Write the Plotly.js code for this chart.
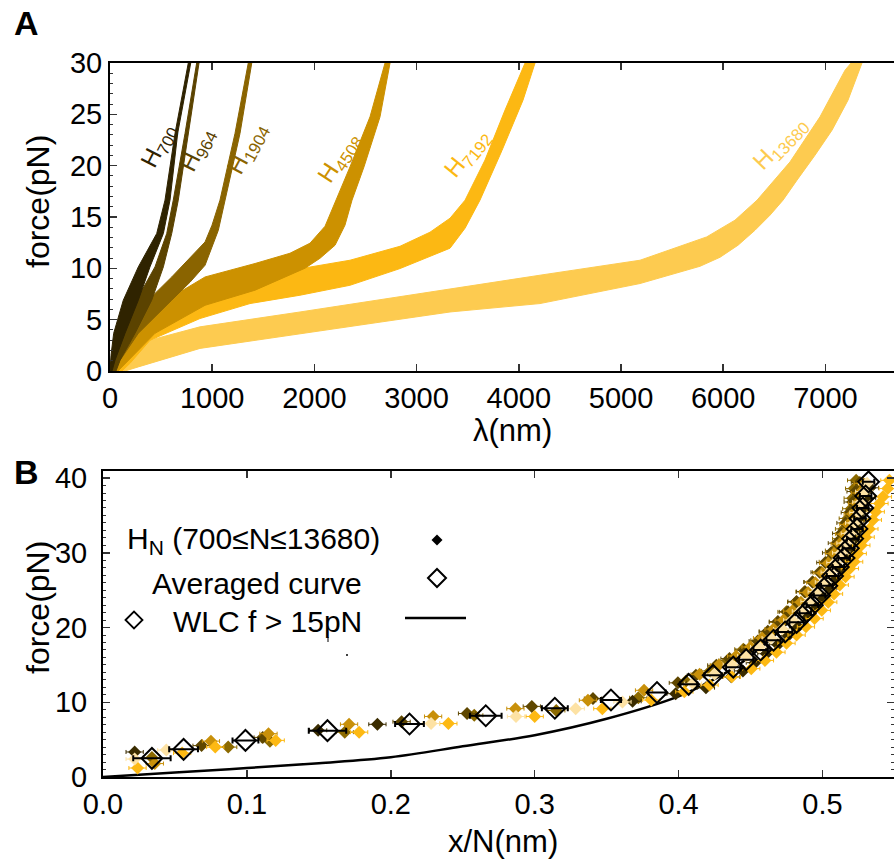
<!DOCTYPE html>
<html><head><meta charset="utf-8">
<script src="https://cdn.plot.ly/plotly-3.0.1.min.js"></script>
<style>html,body{margin:0;padding:0;background:#fff}#chart{width:894px;height:861px}</style>
</head><body><div id="chart"></div>
<script>
// ---------- Panel A : force-extension traces (band envelopes) ----------
const curveLabels = ['H<sub>700</sub>','H<sub>964</sub>','H<sub>1904</sub>','H<sub>4508</sub>','H<sub>7192</sub>','H<sub>13680</sub>'];

const h700UpLam = [0, 10, 36, 130, 277, 457, 538, 636, 766];
const h700UpF   = [0, 1.53, 3.67, 6.89, 10.14, 13.39, 16.64, 23.14, 30];
const h700LoLam = [790, 662, 587, 522, 391, 277, 147, 49, 20];
const h700LoF   = [30, 23.14, 16.64, 13.39, 10.14, 6.89, 3.67, 1.04, 0];

const h964UpLam = [0, 20, 78, 261, 440, 555, 619, 734, 848];
const h964UpF   = [0, 1.53, 3.67, 6.89, 10.14, 13.39, 16.64, 23.14, 30];
const h964LoLam = [871, 766, 668, 604, 522, 408, 245, 98, 59];
const h964LoF   = [30, 23.14, 16.64, 13.39, 10.14, 6.89, 3.67, 1.04, 0];

const h1904UpLam = [0, 29, 274, 604, 930, 998, 1076, 1223, 1353];
const h1904UpF   = [0, 2.02, 5.92, 9.16, 12.57, 14.2, 16.64, 23.14, 30];
const h1904LoLam = [1387, 1272, 1125, 1060, 930, 783, 604, 277, 98, 49];
const h1904LoF   = [30, 23.14, 16.64, 13.71, 10.3, 8.65, 6.9, 3.67, 1.04, 0];

const h4508UpLam = [0, 39, 147, 440, 930, 1419, 1761, 1957, 2104, 2211, 2348, 2544, 2691];
const h4508UpF   = [0, 1.53, 3.67, 6.24, 9.16, 10.47, 11.47, 12.45, 14.1, 16.64, 19.88, 24.76, 30];
const h4508LoLam = [2740, 2642, 2485, 2368, 2299, 2202, 2055, 1908, 1419, 930, 440, 147, 78];
const h4508LoF   = [30, 24.76, 19.88, 16.64, 14.2, 12.25, 10.98, 10.01, 7.87, 6.4, 3.67, 0.75, 0];

const h7192UpLam = [0, 49, 147, 391, 880, 1370, 1859, 2348, 2838, 3131, 3327, 3474, 3669, 3865, 4061];
const h7192UpF   = [0, 1.53, 3.48, 6.4, 8.16, 9.13, 9.96, 10.79, 12.15, 13.52, 14.88, 16.64, 20.54, 25.41, 30];
const h7192LoLam = [4159, 4041, 3836, 3620, 3474, 3327, 2838, 2348, 1859, 1370, 880, 391, 196, 117];
const h7192LoF   = [30, 26.38, 21.5, 16.64, 13.91, 11.96, 9.98, 8.35, 7.38, 6.57, 5.11, 2.99, 0.75, 0];

const h13680UpLam = [0, 98, 391, 880, 1859, 2600, 3327, 4207, 5186, 5838, 6115, 6331, 6654, 6947, 7192, 7251];
const h13680UpF   = [0, 1.4, 3.0, 4.3, 5.75, 6.9, 8.03, 9.33, 10.79, 13.06, 14.69, 16.64, 20.37, 24.76, 29.3, 30];
const h13680LoLam = [7358, 7221, 7065, 6898, 6722, 6585, 6458, 6311, 6145, 5969, 5773, 5186, 4207, 3327, 2600, 1859, 880, 277, 147];
const h13680LoF   = [30, 26.38, 23.46, 21.02, 18.59, 16.64, 15.18, 13.71, 12.25, 11.08, 10.2, 8.52, 6.57, 5.75, 4.7, 3.65, 2.2, 0.4, 0];

// label anchor positions (lambda, force)
const labelLam = [475, 855, 1350, 2250, 3500, 6560];
const labelF   = [21.9, 21.5, 21.7, 20.8, 21.2, 22.2];

// ---------- Panel B : rescaled curves ----------
const h700X = [0.022, 0.1495, 0.1907, 0.368, 0.398, 0.419, 0.4366, 0.4447, 0.453, 0.461, 0.469, 0.476, 0.483, 0.489, 0.494, 0.499, 0.504, 0.508, 0.512, 0.516, 0.519, 0.522, 0.525, 0.527, 0.529, 0.531, 0.533];
const h700F = [3.35, 6.25, 7.05, 10.13, 11.15, 11.96, 13.4, 14.2, 15.3, 16.5, 17.7, 18.9, 20.1, 21.4, 22.7, 24.0, 25.3, 26.6, 27.9, 29.2, 30.5, 31.8, 33.1, 34.5, 35.9, 37.3, 38.7];

const h964X = [0.0685, 0.111, 0.2075, 0.253, 0.298, 0.3405, 0.3995, 0.412, 0.4262, 0.4354, 0.4458, 0.455, 0.462, 0.469, 0.476, 0.482, 0.488, 0.493, 0.498, 0.502, 0.506, 0.510, 0.513, 0.516, 0.519, 0.521, 0.523, 0.526];
const h964F = [4.2, 5.3, 7.4, 8.5, 9.45, 10.5, 12.6, 13.6, 14.95, 15.85, 16.96, 18.2, 19.5, 20.8, 22.1, 23.5, 24.8, 26.1, 27.4, 28.7, 30.0, 31.3, 32.6, 34.0, 35.4, 36.8, 38.2, 39.4];

const h1904X = [0.034, 0.087, 0.116, 0.168, 0.258, 0.315, 0.372, 0.405, 0.422, 0.434, 0.445, 0.4562, 0.462, 0.469, 0.475, 0.4817, 0.4875, 0.4933, 0.499, 0.5037, 0.508, 0.513, 0.515, 0.5176, 0.52, 0.521, 0.522, 0.5234];
const h1904F = [2.6, 4.0, 4.8, 6.0, 8.26, 8.9, 10.6, 12.8, 14.2, 15.6, 17.1, 18.3, 19.4, 20.7, 22.1, 23.4, 24.8, 26.1, 27.4, 28.8, 30.3, 31.9, 33.2, 34.6, 35.9, 37.3, 38.6, 39.7];

const h4508X = [0.036, 0.075, 0.115, 0.171, 0.2294, 0.2866, 0.337, 0.376, 0.4146, 0.428, 0.440, 0.450, 0.458, 0.466, 0.473, 0.479, 0.485, 0.490, 0.495, 0.500, 0.504, 0.508, 0.512, 0.515, 0.518, 0.521, 0.524, 0.526, 0.528];
const h4508F = [1.8, 4.8, 5.8, 7.05, 8.1, 9.15, 10.27, 11.6, 13.75, 15.0, 16.2, 17.4, 18.6, 19.8, 21.0, 22.2, 23.4, 24.7, 26.0, 27.3, 28.6, 29.9, 31.2, 32.5, 33.8, 35.2, 36.6, 38.0, 39.3];

const h7192X = [0.024, 0.055, 0.078, 0.12, 0.178, 0.24, 0.30, 0.347, 0.381, 0.404, 0.4215, 0.437, 0.4505, 0.460, 0.468, 0.475, 0.482, 0.4885, 0.4945, 0.4995, 0.504, 0.508, 0.512, 0.516, 0.519, 0.522, 0.5245, 0.527, 0.530, 0.5326, 0.535, 0.537, 0.5396, 0.542, 0.5453, 0.5465];
const h7192F = [1.2, 3.2, 4.0, 4.9, 6.0, 7.15, 8.1, 9.15, 10.3, 11.4, 12.3, 13.4, 14.5, 15.6, 16.7, 17.9, 19.0, 20.1, 21.2, 22.3, 23.4, 24.5, 25.7, 26.8, 27.9, 28.8, 29.9, 31.0, 32.1, 33.2, 34.4, 35.5, 36.6, 37.5, 38.6, 39.7];

const h13680X = [0.022, 0.044, 0.228, 0.287, 0.3285, 0.361, 0.41, 0.425, 0.437, 0.447, 0.456, 0.464, 0.472, 0.479, 0.485, 0.491, 0.496, 0.501, 0.505, 0.509, 0.513, 0.516, 0.519, 0.522, 0.525, 0.527, 0.529, 0.531];
const h13680F = [2.4, 3.6, 7.15, 8.1, 9.15, 10.05, 12.5, 13.8, 15.0, 16.2, 17.4, 18.6, 19.8, 21.0, 22.2, 23.5, 24.8, 26.1, 27.4, 28.7, 30.0, 31.3, 32.6, 34.0, 35.4, 36.8, 38.2, 39.3];

const avgX   = [0.034, 0.056, 0.099, 0.156, 0.213, 0.266, 0.314, 0.353, 0.385, 0.407, 0.424, 0.438, 0.447, 0.457, 0.466, 0.474, 0.482, 0.488, 0.493, 0.498, 0.503, 0.507, 0.511, 0.515, 0.518, 0.521, 0.524, 0.526, 0.528, 0.530, 0.532];
const avgF   = [2.5, 3.7, 4.9, 6.2, 7.1, 8.2, 9.2, 10.3, 11.3, 12.4, 13.6, 14.7, 15.7, 17.0, 18.3, 19.4, 20.7, 21.9, 23.0, 24.3, 25.6, 26.9, 28.1, 29.3, 30.6, 31.9, 33.2, 34.6, 36.0, 37.6, 39.5];
const avgErr = [0.013, 0.010, 0.009, 0.013, 0.010, 0.011, 0.009, 0.007, 0.006, 0.006, 0.006, 0.005, 0.005, 0.005, 0.005, 0.005, 0.005, 0.004, 0.004, 0.004, 0.004, 0.004, 0.004, 0.004, 0.004, 0.004, 0.004, 0.004, 0.004, 0.004, 0.004];

const wlcX = [0, 0.05, 0.10, 0.15, 0.20, 0.25, 0.30, 0.35, 0.40, 0.42, 0.44, 0.46, 0.48, 0.50, 0.51, 0.52, 0.53];
const wlcF = [0, 0.6, 1.2, 1.85, 2.65, 4.1, 5.6, 7.8, 10.8, 12.6, 14.8, 17.8, 21.5, 26.5, 29.8, 33.8, 39.0];

const legendTexts = ['H<sub>N</sub> (700≤N≤13680)', 'Averaged curve', 'WLC f > 15pN'];

// ---------- styling ----------
const FONT = 'Liberation Sans, Arial, Helvetica, sans-serif';
const colA = ['#2f2300', '#5b4300', '#8a6400', '#cc9100', '#fcb813', '#fdcb50'];
const colB = ['#3a2c00', '#5f4700', '#8c6a00', '#c8900a', '#fdb913', '#fde2a4'];
const W = 894, H = 861;
const px = v => v / W, py = v => 1 - v / H;

function band(upL, upF, loL, loF, color) {
  return {x: upL.concat(loL), y: upF.concat(loF), xaxis: 'x', yaxis: 'y', type: 'scatter', mode: 'lines',
    fill: 'toself', fillcolor: color, line: {color: color, width: 1}, hoverinfo: 'skip'};
}
const traces = [
  band(h13680UpLam, h13680UpF, h13680LoLam, h13680LoF, colA[5]),
  band(h7192UpLam, h7192UpF, h7192LoLam, h7192LoF, colA[4]),
  band(h4508UpLam, h4508UpF, h4508LoLam, h4508LoF, colA[3]),
  band(h1904UpLam, h1904UpF, h1904LoLam, h1904LoF, colA[2]),
  band(h964UpLam, h964UpF, h964LoLam, h964LoF, colA[1]),
  band(h700UpLam, h700UpF, h700LoLam, h700LoF, colA[0])
];

traces.push({x: wlcX, y: wlcF, xaxis: 'x2', yaxis: 'y2', type: 'scatter', mode: 'lines',
  line: {color: '#000', width: 2.5, shape: 'spline'}});

function series(xs, fs, color) {
  return {x: xs, y: fs, xaxis: 'x2', yaxis: 'y2', type: 'scatter', mode: 'markers',
    marker: {symbol: 'diamond', size: 10, color: color, line: {width: 0}},
    error_x: {type: 'constant', value: 0.006, color: color, thickness: 1, width: 2}};
}
traces.push(series(h1904X, h1904F, colB[2]));
traces.push(series(h964X, h964F, colB[1]));
traces.push(series(h4508X, h4508F, colB[3]));
traces.push(series(h700X, h700F, colB[0]));
traces.push(series(h7192X, h7192F, colB[4]));
traces.push(series(h13680X, h13680F, colB[5]));

traces.push({x: avgX, y: avgF, xaxis: 'x2', yaxis: 'y2', type: 'scatter', mode: 'markers',
  marker: {symbol: 'diamond-open', size: 16, color: '#000', line: {width: 2, color: '#000'}},
  error_x: {type: 'data', array: avgErr, color: '#000', thickness: 2, width: 3}});

// ---------- annotations ----------
const labelAngles = [-63, -64, -62, -57, -51, -46];
const annotations = [];
for (let i = 0; i < curveLabels.length; i++) {
  annotations.push({text: curveLabels[i], x: labelLam[i], y: labelF[i], xref: 'x', yref: 'y',
    showarrow: false, textangle: labelAngles[i], font: {family: FONT, size: 24, color: colA[i]},
    xanchor: 'center', yanchor: 'middle'});
}
const ann = (t, x, y, opts) => Object.assign({text: t, x: px(x), y: py(y), xref: 'paper', yref: 'paper',
  showarrow: false, font: {family: FONT, size: 31, color: '#000'}, xanchor: 'center', yanchor: 'middle'}, opts || {});
annotations.push(ann('<b>A</b>', 26, 23, {font: {family: FONT, size: 34, color: '#000'}}));
annotations.push(ann('<b>B</b>', 26, 472, {font: {family: FONT, size: 34, color: '#000'}}));
annotations.push(ann('force(pN)', 38, 202, {textangle: -90, font: {family: FONT, size: 32, color: '#000'}}));
annotations.push(ann('λ(nm)', 512, 430));
annotations.push(ann('force(pN)', 38, 608, {textangle: -90, font: {family: FONT, size: 32, color: '#000'}}));
annotations.push(ann('x/N(nm)', 503, 841));
annotations.push(ann(legendTexts[0], 382, 540, {xanchor: 'right', font: {family: FONT, size: 30, color: '#000'}}));
annotations.push(ann(legendTexts[1], 364, 583, {xanchor: 'right', font: {family: FONT, size: 30, color: '#000'}}));
annotations.push(ann(legendTexts[2], 364, 621, {xanchor: 'right', font: {family: FONT, size: 30, color: '#000'}}));

function diamondPath(cx, cy, r) {
  return 'M' + px(cx - r) + ',' + py(cy) + ' L' + px(cx) + ',' + py(cy - r) + ' L' + px(cx + r) + ',' + py(cy) +
         ' L' + px(cx) + ',' + py(cy + r) + ' Z';
}
const shapes = [
  {type: 'path', xref: 'paper', yref: 'paper', path: diamondPath(437, 540, 5.5), fillcolor: '#000', line: {width: 0}},
  {type: 'path', xref: 'paper', yref: 'paper', path: diamondPath(437, 578, 9), fillcolor: 'rgba(0,0,0,0)', line: {color: '#000', width: 2}},
  {type: 'path', xref: 'paper', yref: 'paper', path: diamondPath(134, 620, 8.5), fillcolor: 'rgba(0,0,0,0)', line: {color: '#000', width: 1.8}},
  {type: 'line', xref: 'paper', yref: 'paper', x0: px(405), x1: px(466), y0: py(618), y1: py(618), line: {color: '#000', width: 2.5}},
  {type: 'circle', xref: 'paper', yref: 'paper', x0: px(346), x1: px(348), y0: py(654), y1: py(656), fillcolor: '#000', line: {width: 0}},
  {type: 'line', xref: 'paper', yref: 'paper', x0: px(328), x1: px(328), y0: py(637), y1: py(642), line: {color: '#000', width: 1}}
];

const axBase = {showgrid: false, zeroline: false, showline: true, linecolor: '#000', linewidth: 2,
  ticks: 'inside', ticklen: 7, tickwidth: 1.5, tickcolor: '#333', tickfont: {family: FONT, size: 29, color: '#000'}};

const layout = {
  width: W, height: H, margin: {l: 0, r: 0, t: 0, b: 0}, showlegend: false,
  paper_bgcolor: '#fff', plot_bgcolor: 'rgba(0,0,0,0)', font: {family: FONT, size: 29, color: '#000'},
  xaxis: Object.assign({}, axBase, {domain: [px(110), 1], range: [0, 7671], anchor: 'y', tick0: 0, dtick: 1000, mirror: 'ticks'}),
  yaxis: Object.assign({}, axBase, {domain: [py(371), py(63)], range: [0, 30], anchor: 'x', tick0: 0, dtick: 5, mirror: false,
    minor: {dtick: 1, ticks: 'inside', ticklen: 3, tickcolor: '#333', tickwidth: 1}}),
  xaxis2: Object.assign({}, axBase, {domain: [px(103), 1], range: [0, 0.5497], anchor: 'y2', tick0: 0, dtick: 0.1, tickformat: '.1f', mirror: 'ticks'}),
  yaxis2: Object.assign({}, axBase, {domain: [py(777), py(471)], range: [0, 40.95], anchor: 'x2', tick0: 0, dtick: 10, mirror: 'ticks',
    ticklabelstandoff: 8, minor: {dtick: 1, ticks: 'inside', ticklen: 3, tickcolor: '#333', tickwidth: 1}}),
  annotations: annotations, shapes: shapes
};

Plotly.newPlot('chart', traces, layout, {staticPlot: true, displayModeBar: false});
</script></body></html>
